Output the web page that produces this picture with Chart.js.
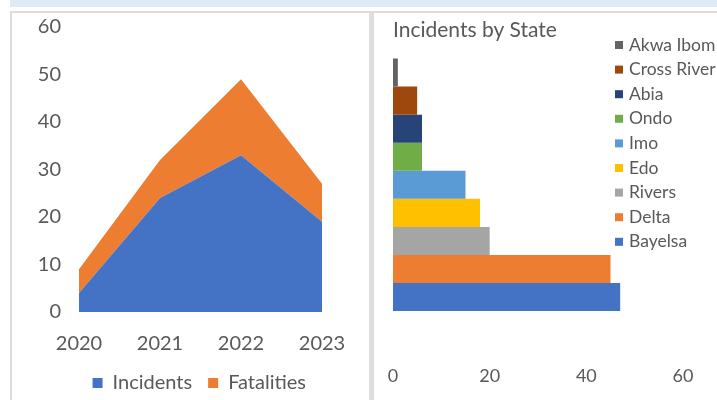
<!DOCTYPE html>
<html>
<head>
<meta charset="utf-8">
<script src="https://cdn.jsdelivr.net/npm/chart.js@4.4.0/dist/chart.umd.min.js"></script>
<style>
    body { margin: 0; background: #fff; width: 717px; height: 400px; overflow: hidden; position: relative; font-family: Lato, sans-serif; }
    #band { position: absolute; left: 10px; top: 0; width: 707px; height: 7px; background: #deebf7; }
    #topLine { position: absolute; left: 10px; top: 11px; width: 707px; height: 2px; background: #dcdcdc; }
    #leftLine { position: absolute; left: 10px; top: 11px; width: 2px; height: 389px; background: #dcdcdc; }
    #midLine { position: absolute; left: 369px; top: 11px; width: 5px; height: 389px; background: #dedede; }
    #trendWrap { position: absolute; left: 12px; top: 13px; width: 356px; height: 387px; }
    #stateWrap { position: absolute; left: 375px; top: 13px; width: 342px; height: 387px; }
</style>
</head>
<body>
<div id="band"></div>
<div id="topLine"></div>
<div id="leftLine"></div>
<div id="midLine"></div>
<div id="trendWrap"><canvas id="trendChart"></canvas></div>
<div id="stateWrap"><canvas id="stateChart"></canvas></div>

<script>
// --- ข้อมูล ---
const years = ['2020', '2021', '2022', '2023'];
const incidents = [4, 24, 33, 19];
const fatalities = [5, 8, 16, 8];

const states = ['Akwa Ibom', 'Cross River', 'Abia', 'Ondo', 'Imo', 'Edo', 'Rivers', 'Delta', 'Bayelsa'];
const stateIncidents = [1, 5, 6, 6, 15, 18, 20, 45, 47];
const stateColors = ['#636363', '#9e480e', '#264478', '#70ad47', '#5b9bd5', '#ffc000', '#a5a5a5', '#ed7d31', '#4472c4'];

const textColor = '#595959';
const fontName = 'Lato';

// --- กราฟพื้นที่ซ้อน ---
// ใช้ tickLength แทน ticks.padding เพราะ padding ไปดันขอบพื้นที่กราฟด้วย
new Chart(document.getElementById('trendChart').getContext('2d'), {
    type: 'line',
    data: {
        labels: years,
        datasets: [
            { label: 'Incidents', data: incidents, backgroundColor: '#4472c4', borderWidth: 0, pointRadius: 0, fill: 'origin' },
            { label: 'Fatalities', data: fatalities, backgroundColor: '#ed7d31', borderWidth: 0, pointRadius: 0, fill: '-1' }
        ]
    },
    options: {
        responsive: true,
        maintainAspectRatio: false,
        animation: false,
        layout: { padding: { top: 14, right: 46, left: 20, bottom: -3 } },
        plugins: {
            tooltip: { enabled: false },
            legend: {
                position: 'bottom',
                align: 'end',
                labels: { boxWidth: 10, boxHeight: 10, padding: 16, color: textColor, font: { family: fontName, size: 20 } }
            }
        },
        scales: {
            x: {
                offset: false,
                grid: { display: false, drawTicks: true, tickLength: 20 },
                border: { display: false },
                ticks: { color: textColor, padding: 0, maxRotation: 0, font: { family: fontName, size: 20 } },
                afterFit: (scale) => { scale.height = 45; }
            },
            y: {
                stacked: true,
                min: 0,
                max: 60,
                grid: { display: false, drawTicks: true, tickLength: 18 },
                border: { display: false },
                ticks: { stepSize: 10, color: textColor, padding: 0, font: { family: fontName, size: 20 } },
                afterFit: (scale) => { scale.width = 47; }
            }
        }
    }
});

// --- คำอธิบายด้านขวา (วาดเอง เพราะซ้อนทับพื้นที่กราฟ) ---
const sideLegend = {
    id: 'sideLegend',
    afterDraw(chart) {
        const ctx = chart.ctx;
        ctx.save();
        ctx.font = '17.5px ' + fontName;
        ctx.textBaseline = 'middle';
        chart.data.datasets.forEach((ds, i) => {
            const y = 32 + i * 24.6;
            ctx.fillStyle = ds.backgroundColor;
            ctx.fillRect(240, y - 4, 8, 8);
            ctx.fillStyle = textColor;
            ctx.fillText(ds.label, 254, y);
        });
        ctx.restore();
    }
};

// --- กราฟแท่งตามรัฐ ---
new Chart(document.getElementById('stateChart').getContext('2d'), {
    type: 'bar',
    data: {
        labels: [''],
        datasets: states.map((s, i) => ({
            label: s,
            data: [stateIncidents[i]],
            backgroundColor: stateColors[i],
            borderWidth: 0
        }))
    },
    options: {
        indexAxis: 'y',
        responsive: true,
        maintainAspectRatio: false,
        animation: false,
        layout: { padding: { top: 0, right: 34, left: 18, bottom: 0 } },
        datasets: { bar: { categoryPercentage: 0.938, barPercentage: 1 } },
        plugins: {
            tooltip: { enabled: false },
            legend: { display: false },
            title: {
                display: true,
                text: 'Incidents by State',
                align: 'start',
                color: textColor,
                padding: { top: 5, bottom: 7 },
                font: { family: fontName, size: 21, weight: 'normal' }
            }
        },
        scales: {
            y: { display: false },
            x: {
                min: 0,
                max: 60,
                grid: { display: false, drawTicks: true, tickLength: 46 },
                border: { display: false },
                ticks: { stepSize: 20, color: textColor, padding: 0, maxRotation: 0, font: { family: fontName, size: 18 } },
                afterFit: (scale) => { scale.height = 80.6; }
            }
        }
    },
    plugins: [sideLegend]
});
</script>
</body>
</html>
